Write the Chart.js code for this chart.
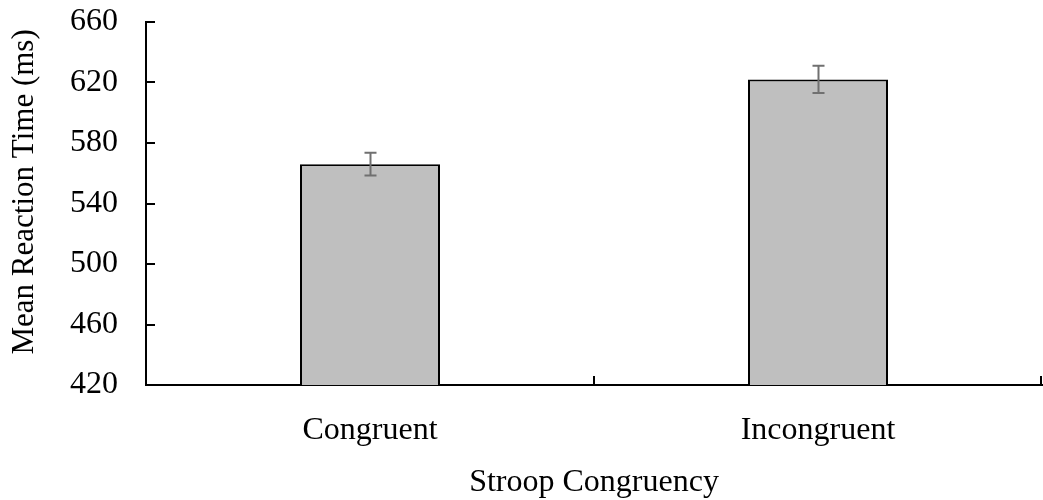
<!DOCTYPE html>
<html>
<head>
<meta charset="utf-8">
<script src="https://cdn.jsdelivr.net/npm/chart.js@4"></script>
<style>
  html, body { margin: 0; padding: 0; background: #fff; }
  #wrap { width: 1043px; height: 500px; }
</style>
</head>
<body>
<div id="wrap"><canvas id="canvas" width="1043" height="500"></canvas></div>
<script>
// Stroop task: mean reaction time per condition, with error bars
let labels = [ 'Congruent', 'Incongruent' ];
let means  = [ 566, 622 ];
let errors = [ 7.5, 9 ];
let yTicks = [ 420, 460, 500, 540, 580, 620, 660 ];

let font = { family: "'Liberation Serif', 'Times New Roman', serif", size: 32 };

// Excel-style tick marks that point into the plot
let insideTicks = {
  id: 'insideTicks',
  afterDraw(chart) {
    let ctx = chart.ctx, a = chart.chartArea;
    let x = chart.scales.x, y = chart.scales.y;
    ctx.save();
    ctx.strokeStyle = '#000';
    ctx.lineWidth = 2;
    ctx.beginPath();
    y.ticks.forEach((t, i) => {
      let py = Math.round(y.getPixelForTick(i));
      ctx.moveTo(a.left, py);
      ctx.lineTo(a.left + 9, py);
    });
    let step = x.getPixelForValue(1) - x.getPixelForValue(0);
    for (let i = 1; i <= labels.length; i++) {
      let px = Math.min(Math.round(x.getPixelForValue(i - 1) + step / 2), a.right - 1);
      ctx.moveTo(px, a.bottom);
      ctx.lineTo(px, a.bottom - 9);
    }
    ctx.stroke();
    ctx.restore();
  }
};

let errorBars = {
  id: 'errorBars',
  afterDatasetsDraw(chart) {
    let ctx = chart.ctx;
    let x = chart.scales.x, y = chart.scales.y;
    ctx.save();
    ctx.strokeStyle = '#707070';
    ctx.lineWidth = 2;
    means.forEach((m, i) => {
      let px = Math.round(x.getPixelForValue(i)) + 0.5;
      let top = y.getPixelForValue(m + errors[i]);
      let bot = y.getPixelForValue(m - errors[i]);
      ctx.beginPath();
      ctx.moveTo(px, top); ctx.lineTo(px, bot);
      ctx.moveTo(px - 6, top); ctx.lineTo(px + 6, top);
      ctx.moveTo(px - 6, bot); ctx.lineTo(px + 6, bot);
      ctx.stroke();
    });
    ctx.restore();
  }
};

let options = {
  type: 'bar',
  data: {
    labels: labels,
    datasets: [{
      data: means,
      backgroundColor: '#bfbfbf',
      borderColor: '#000',
      borderWidth: 2,
      categoryPercentage: 1.0,
      barPercentage: 0.3125
    }]
  },
  options: {
    responsive: false,
    animation: false,
    layout: { padding: { top: 0, right: 1, left: 0, bottom: 0 } },
    plugins: {
      legend: { display: false },
      tooltip: { enabled: false }
    },
    scales: {
      x: {
        offset: true,
        grid: { display: false, drawTicks: false },
        border: { color: '#000', width: 2 },
        ticks: { color: '#000', font: font, padding: 26 },
        title: { display: true, text: 'Stroop Congruency', color: '#000',
                 font: Object.assign({}, font, { lineHeight: 1.0 }), padding: { top: 0, bottom: 1 } },
        afterFit(s) { s.height = 115; }
      },
      y: {
        min: 420,
        max: 660,
        afterBuildTicks(s) { s.ticks = yTicks.map(v => ({ value: v })); },
        grid: { display: false, drawTicks: false },
        border: { color: '#000', width: 2 },
        ticks: { color: '#000', font: font, padding: 28 },
        // leading spaces nudge the rotated title up a little, as in the original
        title: { display: true, text: '   Mean Reaction Time (ms)', color: '#000',
                 font: Object.assign({}, font, { size: 31 }), padding: { top: 6, bottom: 0 } },
        afterFit(s) { s.width = 146; s.paddingTop = 22; s.paddingBottom = 0; }
      }
    }
  },
  plugins: [ insideTicks, errorBars ]
};

let chart = new Chart(document.getElementById('canvas'), options);
</script>
</body>
</html>
